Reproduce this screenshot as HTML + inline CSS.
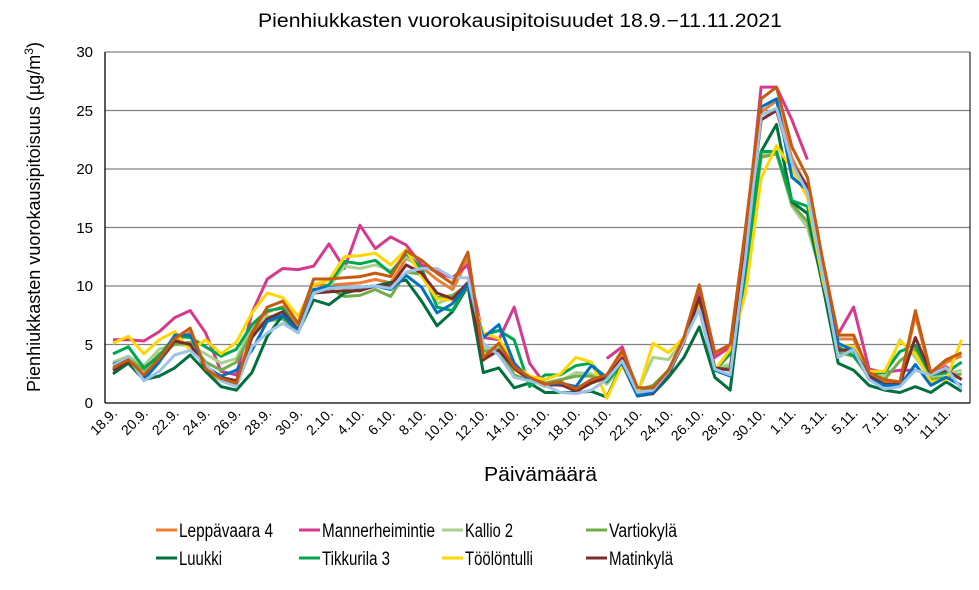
<!DOCTYPE html>
<html><head><meta charset="utf-8"><style>
body{margin:0;background:#fff;}
svg{display:block;font-family:"Liberation Sans",Arial,sans-serif;}
</style></head><body>
<svg id="c" width="979" height="590" viewBox="0 0 979 590" xmlns="http://www.w3.org/2000/svg">
<rect width="979" height="590" fill="#fff"/>
<text x="258" y="27" font-size="19" textLength="524" lengthAdjust="spacingAndGlyphs">Pienhiukkasten  vuorokausipitoisuudet  18.9.−11.11.2021</text>
<g id="grid" stroke="#808080" stroke-width="1.3"></g>
<g id="series" fill="none" stroke-width="3" stroke-linejoin="round"></g>
<line x1="105" y1="52" x2="105" y2="403" stroke="#000" stroke-width="1.3"/>
<line x1="105" y1="403" x2="970" y2="403" stroke="#000" stroke-width="1.3"/>
<line x1="970" y1="52" x2="970" y2="403" stroke="#000" stroke-width="1"/>
<g font-size="15" text-anchor="end">
<text x="93" y="408">0</text><text x="93" y="350">5</text><text x="93" y="291">10</text><text x="93" y="233">15</text><text x="93" y="174">20</text><text x="93" y="116">25</text><text x="93" y="57">30</text>
</g>
<g id="xl" font-size="14" text-anchor="end"></g>
<text x="484" y="481" font-size="20" textLength="113" lengthAdjust="spacingAndGlyphs">Päivämäärä</text>
<text transform="translate(40,392) rotate(-90)" font-size="18" textLength="350" lengthAdjust="spacing">Pienhiukkasten vuorokausipitoisuus (µg/m<tspan font-size="12" dy="-7">3</tspan><tspan dy="7">)</tspan></text>
<g font-size="19" lengthAdjust="spacingAndGlyphs">
<line x1="156" y1="530" x2="177" y2="530" stroke="#ED7D31" stroke-width="3"/><text x="179" y="537" textLength="94" lengthAdjust="spacingAndGlyphs">Leppävaara 4</text>
<line x1="299" y1="530" x2="320" y2="530" stroke="#D63A8E" stroke-width="3"/><text x="322" y="537" textLength="113" lengthAdjust="spacingAndGlyphs">Mannerheimintie</text>
<line x1="442" y1="530" x2="463" y2="530" stroke="#A9D08E" stroke-width="3"/><text x="465" y="537" textLength="48" lengthAdjust="spacingAndGlyphs">Kallio 2</text>
<line x1="586" y1="530" x2="607" y2="530" stroke="#70AD47" stroke-width="3"/><text x="609" y="537" textLength="68" lengthAdjust="spacingAndGlyphs">Vartiokylä</text>
<line x1="156" y1="558" x2="177" y2="558" stroke="#00703C" stroke-width="3"/><text x="179" y="565" textLength="43" lengthAdjust="spacingAndGlyphs">Luukki</text>
<line x1="299" y1="558" x2="320" y2="558" stroke="#00A651" stroke-width="3"/><text x="322" y="565" textLength="68" lengthAdjust="spacingAndGlyphs">Tikkurila 3</text>
<line x1="442" y1="558" x2="463" y2="558" stroke="#FFD700" stroke-width="3"/><text x="465" y="565" textLength="68" lengthAdjust="spacingAndGlyphs">Töölöntulli</text>
<line x1="586" y1="558" x2="607" y2="558" stroke="#7B2C2C" stroke-width="3"/><text x="609" y="565" textLength="64" lengthAdjust="spacingAndGlyphs">Matinkylä</text>
</g>
</svg>
<script>
var NS="http://www.w3.org/2000/svg";
function X(i){return 113+15.43*i;}
function Y(v){return 403-11.7*v;}
var g=document.getElementById('grid');
for(var k=1;k<=6;k++){var l=document.createElementNS(NS,'line');l.setAttribute('x1',105);l.setAttribute('x2',970);l.setAttribute('y1',Y(k*5));l.setAttribute('y2',Y(k*5));g.appendChild(l);}
var xl=document.getElementById('xl');
for(var i=0;i<56;i+=2){var dd=new Date(2021,8,18+i);var t=document.createElementNS(NS,'text');var x=X(i)+5,y=414;t.setAttribute('x',x);t.setAttribute('y',y);t.setAttribute('transform','rotate(-45 '+x+' '+y+')');t.textContent=dd.getDate()+'.'+(dd.getMonth()+1)+'.';xl.appendChild(t);}
var DO=[3.0,3.7,2.4,3.8,5.5,6.4,2.9,2.1,1.7,6.0,8.2,8.7,6.8,10.6,10.6,10.7,10.8,11.1,10.8,13.0,12.2,11.1,10.2,12.9,3.9,5.1,3.1,2.2,1.6,1.8,1.2,2.0,2.4,4.5,1.3,1.3,2.8,5.6,10.1,4.3,5.0,15.0,26.0,27.0,21.9,19.3,12.2,5.8,5.8,2.6,2.0,1.8,7.9,2.6,3.7,4.3];
var LE=DO.map(function(v){return v*0.96-0.1;});
var S=[
["#ED7D31",LE],
["#D63A8E",[5.4,5.4,5.3,6.1,7.3,7.9,6.0,2.7,2.4,7.7,10.6,11.5,11.4,11.7,13.6,11.5,15.2,13.2,14.2,13.5,11.8,11.2,10.7,11.8,5.6,5.4,8.2,3.4,1.6,1.5,1.3,null,3.8,4.8,1.0,1.2,2.7,5.6,9.5,3.9,4.8,14,27,27,24.2,20.8,null,5.9,8.2,2.9,2.6,2.8,2.8,2.4,3.1,2.0]],
["#A9D08E",[3.5,4.0,3.2,4.6,5.0,4.9,4.2,3.4,3.8,6.5,7.4,7.4,6.0,9.6,9.9,11.7,11.5,11.8,11.3,12.5,11.5,8.5,9.0,10.0,4.7,4.8,2.2,2.0,1.6,1.9,2.6,2.5,1.6,3.2,1.0,3.9,3.7,5.4,8.5,3.0,3.3,10.5,21.2,21.5,16.8,15.0,10.5,4.5,4.2,2.3,2.3,5.4,3.9,2.2,2.5,2.8]],
["#70AD47",[3.3,3.8,2.8,4.2,5.0,5.2,3.5,2.8,3.5,6.0,7.0,7.2,6.1,9.4,9.8,9.1,9.2,9.7,9.1,11.2,11.0,9.0,9.2,10.1,4.4,4.6,2.4,1.9,1.7,2.0,2.3,2.3,1.8,3.3,1.1,1.5,2.8,5.3,8.3,2.9,3.0,11.0,21.0,21.3,17.0,15.5,10.5,4.3,4.0,2.2,2.0,3.6,4.6,2.0,2.2,2.5]],
["#00703C",[2.5,3.4,2.0,2.3,3.0,4.1,2.7,1.4,1.1,2.6,5.7,7.5,6.1,8.8,8.4,9.4,9.7,10.0,10.3,10.5,8.7,6.6,7.8,10.0,2.6,3.0,1.3,1.7,0.9,0.9,0.9,1.0,0.5,3.3,0.6,0.8,2.2,3.9,6.5,2.2,1.1,12.0,21.5,23.8,17.2,16.2,10.0,3.4,2.8,1.5,1.1,0.9,1.4,0.9,1.8,1.0]],
["#00A651",[4.2,4.8,3.0,4.0,5.7,5.6,4.8,4.0,4.6,6.7,7.9,8.1,6.2,9.6,10.1,12.1,11.9,12.2,11.1,12.8,11.5,8.2,7.9,10.2,5.8,6.2,5.4,1.4,2.4,2.4,3.2,3.4,1.8,3.4,0.8,1.1,2.4,5.5,8.0,2.8,4.2,11.0,21.5,21.5,17.3,16.8,10.5,4.8,4.0,2.5,2.6,4.4,4.9,2.4,2.6,3.5]],
["#FFD700",[5.1,5.7,4.2,5.4,6.1,4.5,5.4,4.2,5.2,7.7,9.4,9.0,7.4,10.1,10.5,12.5,12.6,12.8,11.8,13.1,10.8,8.9,8.8,10.0,6.0,5.5,3.3,2.3,2.0,2.5,3.9,3.5,0.4,3.2,0.8,5.1,4.3,5.6,8.5,2.8,4.6,9.4,19.2,22.0,20.0,17.6,10.5,5.0,4.8,2.7,2.7,5.3,4.2,1.8,2.0,5.4]],
["#7B2C2C",[2.8,3.6,2.3,3.6,5.3,5.0,3.0,2.2,1.9,5.6,7.2,7.8,6.2,9.4,9.5,9.6,9.6,10.0,10.0,11.8,11.1,9.4,8.9,10.3,3.7,4.5,3.0,2.0,1.5,1.6,1.0,1.7,2.2,3.8,0.7,0.8,2.5,5.2,9.0,3.0,2.8,13.0,24.2,25.0,20.5,18.5,11.5,4.5,4.6,2.3,1.6,1.6,5.6,2.5,2.8,2.0]],
["#0070C0",[3.3,3.8,2.0,3.5,5.8,5.8,3.1,2.3,2.8,4.5,7.0,7.5,6.1,9.7,9.9,9.9,9.9,10.0,9.7,10.9,9.9,7.7,8.5,10.1,5.6,6.7,3.4,2.0,1.6,1.7,1.4,3.2,2.2,3.4,0.6,0.9,2.6,5.4,8.0,2.8,2.3,12.0,25.3,26.0,19.3,18.2,11.0,5.1,4.5,2.0,1.5,1.5,3.3,1.5,2.2,1.5]],
["#9DC3E6",[3.2,3.9,1.9,2.7,4.1,4.5,3.3,1.9,1.4,4.8,6.0,6.8,6.0,9.4,9.8,9.9,9.9,10.0,9.8,11.2,11.5,11.5,10.7,10.7,5.1,4.1,2.2,1.9,1.5,0.9,0.8,1.1,2.0,3.6,0.9,1.1,2.7,5.3,8.0,2.9,2.4,12.5,24.6,25.2,20.5,18.0,11.0,3.9,4.6,2.0,1.2,1.4,2.8,2.4,3.0,1.2]],
["#C55A11",DO]
];
var sg=document.getElementById('series');
S.forEach(function(s){
  var segs=[],cur=[];
  s[1].forEach(function(v,i){if(v===null){if(cur.length)segs.push(cur);cur=[];}else cur.push(X(i).toFixed(1)+','+Y(v).toFixed(1));});
  if(cur.length)segs.push(cur);
  segs.forEach(function(c){var p=document.createElementNS(NS,'polyline');p.setAttribute('points',c.join(' '));p.setAttribute('stroke',s[0]);sg.appendChild(p);});
});
</script>
</body></html>
